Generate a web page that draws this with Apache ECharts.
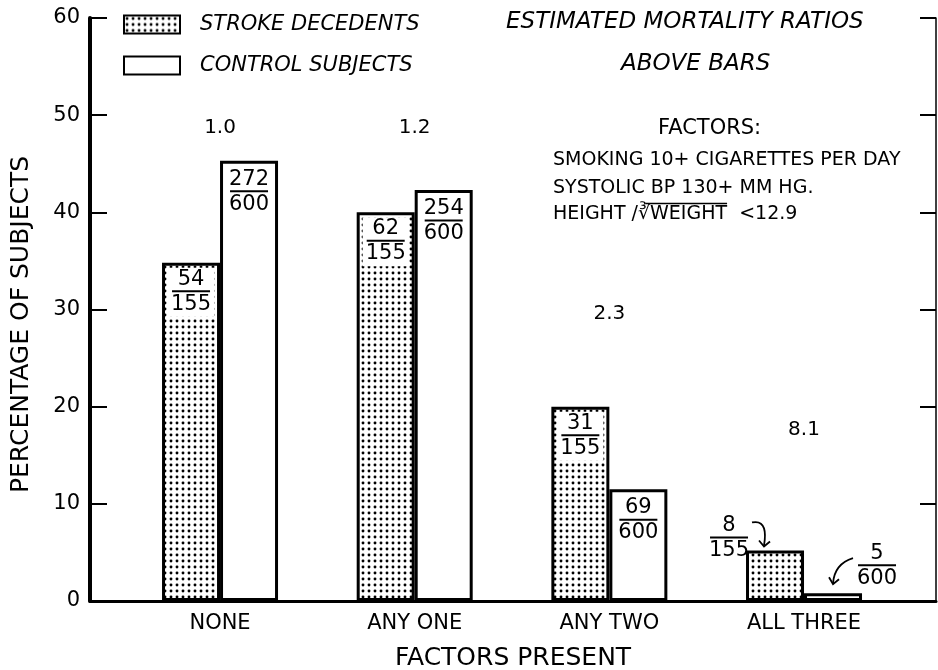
<!DOCTYPE html>
<html><head><meta charset="utf-8">
<script src="https://cdn.jsdelivr.net/npm/echarts@6/dist/echarts.min.js"></script>
<style>html,body{margin:0;padding:0;background:#fff}#c{width:938px;height:670px}</style>
</head><body><div id="c"></div>
<script>
// ---- data ----
const categories = ['NONE', 'ANY ONE', 'ANY TWO', 'ALL THREE'];
const categoryPos = [1, 2, 3, 4];
const strokeValues = [34.8, 40.0, 20.0, 5.2];
const controlValues = [45.3, 42.3, 11.5, 0.8];
const strokeNum = ['54', '62', '31', '8'];
const strokeDen = ['155', '155', '155', '155'];
const controlNum = ['272', '254', '69', '5'];
const controlDen = ['600', '600', '600', '600'];
const ratios = ['1.0', '1.2', '2.3', '8.1'];
const ratioHeights = [48.7, 48.7, 29.6, 17.6];
const seriesNames = ['STROKE DECEDENTS', 'CONTROL SUBJECTS'];
const noteTitle = ['ESTIMATED MORTALITY RATIOS', 'ABOVE BARS'];
const factorsTitle = 'FACTORS:';
const factorLines = ['SMOKING 10+ CIGARETTES PER DAY', 'SYSTOLIC BP 130+ MM HG.'];
const factorLine3 = ['HEIGHT /', '\u221B', 'WEIGHT', '  <12.9'];

const FONT = '"DejaVu Sans", sans-serif';

// stipple pattern
const pc = document.createElement('canvas');
pc.width = 6; pc.height = 6;
const px = pc.getContext('2d');
px.fillStyle = '#fff'; px.fillRect(0, 0, 6, 6);
px.fillStyle = '#000';
px.beginPath(); px.arc(3, 3, 1.45, 0, Math.PI * 2); px.fill();
const dots = { image: pc, repeat: 'repeat' };

const fracRich = {
  n: { fontFamily: FONT, fontSize: 21, lineHeight: 21, color: '#000', align: 'center' },
  l: { width: 38, height: 2, lineHeight: 3, fontSize: 2, backgroundColor: '#000', align: 'center' },
  d: { fontFamily: FONT, fontSize: 21, lineHeight: 23, color: '#000', align: 'center' }
};
function frac(n, d) { return '{n|' + n + '}\n{l| }\n{d|' + d + '}'; }

const strokeData = categoryPos.map((x, i) => {
  const item = { value: [x, strokeValues[i]] };
  if (i === 3) item.label = { position: [-17, -12], align: 'center', verticalAlign: 'middle', backgroundColor: 'transparent', padding: 0 };
  return item;
});
const controlData = categoryPos.map((x, i) => {
  const item = { value: [x, controlValues[i]] };
  if (i === 3) item.label = { position: [73, -27], align: 'center', verticalAlign: 'middle' };
  return item;
});

// text measurement for the overline in the factor note
const mc = document.createElement('canvas').getContext('2d');
const F3 = '19px ' + FONT;
mc.font = F3;
const w0 = mc.measureText(factorLine3[0]).width;
const w1 = mc.measureText(factorLine3[1]).width;
const w2 = mc.measureText(factorLine3[2]).width;

const chart = echarts.init(document.getElementById('c'), null, { renderer: 'canvas' });
const baseGraphic = [
  { type: 'text', left: 506, top: 11, style: { text: noteTitle[0], font: 'italic 23px ' + FONT, fill: '#000' } },
  { type: 'text', left: 621, top: 53, style: { text: noteTitle[1], font: 'italic 23px ' + FONT, fill: '#000' } },
  { type: 'text', left: 658, top: 118, style: { text: factorsTitle, font: '21px ' + FONT, fill: '#000' } },
  { type: 'text', left: 553, top: 151, style: { text: factorLines[0], font: F3, fill: '#000' } },
  { type: 'text', left: 553, top: 179, style: { text: factorLines[1], font: F3, fill: '#000' } },
  { type: 'text', left: 553, top: 205, style: { text: factorLine3.join(''), font: F3, fill: '#000' } },
  { type: 'line', shape: { x1: 553 + w0 + w1 * 0.6, y1: 203.5, x2: 553 + w0 + w1 + w2, y2: 203.5 }, style: { stroke: '#000', lineWidth: 1.5 } }
];
const option = {
  animation: false,
  backgroundColor: '#fff',
  grid: { left: 90, right: 2, top: 18, bottom: 69, containLabel: false, outerBoundsMode: 'none' },
  legend: {
    data: seriesNames,
    orient: 'vertical', left: 123, top: 14, padding: 0,
    itemWidth: 56, itemHeight: 18, itemGap: 20,
    icon: 'rect',
    textStyle: { fontFamily: FONT, fontSize: 21, fontStyle: 'italic', color: '#000', padding: [0, 0, 0, 15] }
  },
  xAxis: {
    type: 'value', min: 0.332, max: 4.678,
    name: 'FACTORS PRESENT', nameLocation: 'middle', nameGap: 45,
    nameTextStyle: { fontFamily: FONT, fontSize: 25, color: '#000' },
    axisLine: { show: true, lineStyle: { color: '#000', width: 3 } },
    axisTick: { show: false },
    splitLine: { show: false },
    axisLabel: {
      customValues: categoryPos,
      formatter: v => categories[categoryPos.indexOf(Math.round(v))] || '',
      fontFamily: FONT, fontSize: 21, color: '#000', margin: 12
    }
  },
  yAxis: [{
    type: 'value', min: 0, max: 60, interval: 10, position: 'left',
    name: 'PERCENTAGE OF SUBJECTS', nameLocation: 'middle', nameGap: 56, nameRotate: 90,
    nameTextStyle: { fontFamily: FONT, fontSize: 25, color: '#000', padding: [0, 30, 0, 0] },
    axisLine: { show: true, lineStyle: { color: '#000', width: 4 } },
    axisTick: { show: true, inside: true, length: 17, lineStyle: { color: '#000', width: 2 } },
    axisLabel: { fontFamily: FONT, fontSize: 21, color: '#000', margin: 10 },
    splitLine: { show: false }
  }, {
    type: 'value', min: 0, max: 60, interval: 10, position: 'right',
    axisLine: { show: true, lineStyle: { color: '#000', width: 1.5 } },
    axisTick: { show: true, inside: true, length: 16, lineStyle: { color: '#000', width: 2 } },
    axisLabel: { show: false },
    splitLine: { show: false }
  }],
  series: [{
    name: seriesNames[0], type: 'bar', barWidth: 58, barGap: '0%',
    itemStyle: { color: dots, borderColor: '#000', borderWidth: 3 },
    label: {
      show: true, position: 'insideTop', distance: 5,
      backgroundColor: '#fff', padding: [1, 3],
      formatter: p => frac(strokeNum[p.dataIndex], strokeDen[p.dataIndex]),
      rich: fracRich
    },
    data: strokeData
  }, {
    name: seriesNames[1], type: 'bar', barWidth: 58, barGap: '0%',
    itemStyle: { color: '#fff', borderColor: '#000', borderWidth: 3 },
    label: {
      show: true, position: 'insideTop', distance: 8,
      formatter: p => frac(controlNum[p.dataIndex], controlDen[p.dataIndex]),
      rich: fracRich
    },
    data: controlData
  }, {
    name: 'ratios', type: 'scatter', symbolSize: 0, silent: true,
    itemStyle: { opacity: 1 },
    label: {
      show: true, position: 'inside',
      formatter: p => ratios[p.dataIndex],
      fontFamily: FONT, fontSize: 20, color: '#000'
    },
    data: categoryPos.map((x, i) => [x, ratioHeights[i]])
  }],
  graphic: baseGraphic
};
chart.setOption(option);

// curved arrows for the smallest bars, placed from the data through the axes
const ps = chart.convertToPixel({ xAxisIndex: 0, yAxisIndex: 0 }, [categoryPos[3], strokeValues[3]]);
const pcx = chart.convertToPixel({ xAxisIndex: 0, yAxisIndex: 0 }, [categoryPos[3], controlValues[3]]);
const L = ps[0] - 58, T = ps[1];
const C = pcx[0], CT = pcx[1];
const arrowStyle = { stroke: '#000', lineWidth: 1.8, fill: null };
chart.setOption({
  graphic: baseGraphic.concat([
    { type: 'bezierCurve', shape: { x1: L + 6, y1: T - 28, cpx1: L + 20, cpy1: T - 31, cpx2: L + 20, cpy2: T - 17, x2: L + 18, y2: T - 5 }, style: arrowStyle },
    { type: 'polyline', shape: { points: [[L + 13, T - 10], [L + 18, T - 4], [L + 24, T - 9]] }, style: arrowStyle },
    { type: 'bezierCurve', shape: { x1: C + 49, y1: CT - 35, cpx1: C + 36, cpy1: CT - 31, cpx2: C + 30, cpy2: CT - 22, x2: C + 29, y2: CT - 10 }, style: arrowStyle },
    { type: 'polyline', shape: { points: [[C + 25, CT - 16], [C + 29, CT - 9], [C + 35, CT - 14]] }, style: arrowStyle }
  ])
});
</script>
</body></html>
